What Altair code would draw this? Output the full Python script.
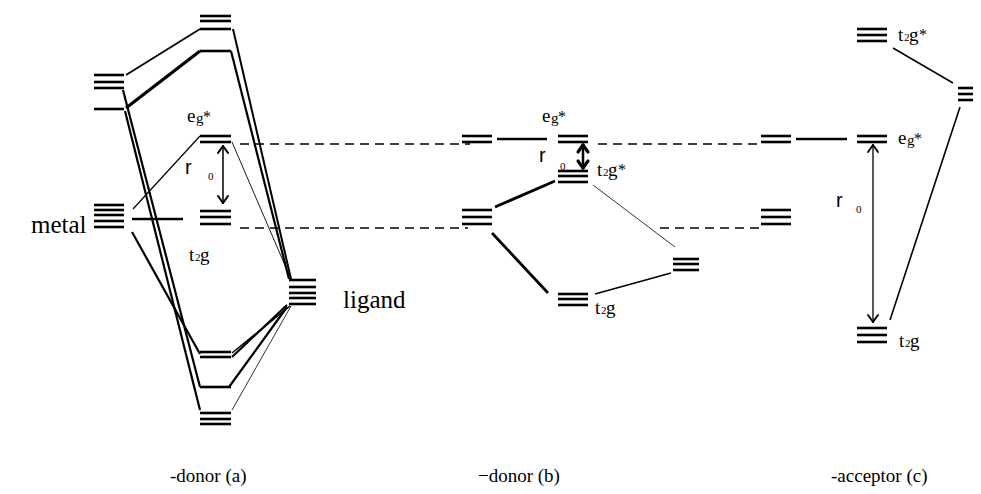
import altair as alt
import pandas as pd

# ---------------- data (page-pixel units) ----------------
# energy levels: left end, right end, y of each stacked line
level_x1 = [94, 94, 94, 200, 200, 200, 200, 200, 200, 200, 289,
            462, 558, 558, 462, 558, 673,
            857, 958, 761, 857, 761, 857]
level_x2 = [124, 124, 124, 231, 231, 231, 231, 231, 231, 231, 316,
            492, 588, 588, 492, 588, 699,
            887, 973, 791, 887, 791, 887]
level_ys = [[75, 82, 88], [109], [205, 210, 215, 221, 227], [16, 21, 29], [51],
            [136, 142], [211, 217, 224], [352, 357], [387], [413, 419, 424],
            [280, 287, 293, 298, 304],
            [136, 142], [136, 142], [171, 176, 182], [210, 217, 224], [294, 299, 305], [259, 264, 270],
            [29, 35, 41], [88, 94, 100], [136, 142], [136, 142], [210, 217, 224], [328, 335, 342]]

# correlation lines: x1, y1, x2, y2, width
conn_x1 = [126, 126, 133, 123, 125, 132, 233, 231, 232, 287, 290, 287, 291, 132,
           497, 495, 492, 593, 595,
           796, 893, 960]
conn_y1 = [75, 108, 209, 90, 111, 232, 29, 51, 142, 305, 306, 307, 306, 219,
           139, 207, 233, 185, 294,
           139, 48, 107]
conn_x2 = [200, 200, 200, 200, 200, 200, 291, 289, 290, 232, 232, 229, 232, 183,
           547, 555, 548, 675, 671,
           847, 953, 890]
conn_y2 = [29, 51, 136, 387, 410, 354, 279, 279, 277, 357, 353, 387, 410, 219,
           139, 181, 293, 247, 273,
           139, 83, 320]
conn_w = [1.8, 3.2, 1.2, 2.2, 2.2, 2.2, 2.0, 2.2, 0.9, 2.2, 1.5, 2.2, 0.8, 2.6,
          2.6, 2.8, 2.8, 0.8, 1.6,
          2.6, 1.5, 1.6]

# dashed reference lines
dash_x1 = [240, 598, 240, 660]
dash_x2 = [470, 762, 468, 762]
dash_y = [144, 144, 228, 228]

# double-headed arrows (splitting r0)
arrow_x = [223, 583, 873]
arrow_y1 = [146, 145, 145]
arrow_y2 = [203, 168, 322]
arrow_w = [1.5, 2.5, 1.3]

# orbital labels: kind, left x, baseline y
orb_kind = ["eg*", "t2g", "eg*", "t2g*", "t2g", "t2g*", "eg*", "t2g"]
orb_x = [187, 189, 542, 597, 595, 898, 898, 899]
orb_y = [122, 261, 122, 176, 314, 41, 144, 347]

# r0 labels
r_x = [185, 539, 836]
r_y = [174, 162, 207]
zero_x = [208, 560, 856]
zero_y = [180, 170, 213]

# plain labels
lab_text = ["metal", "ligand", "-donor (a)", "\u2212donor (b)", "-acceptor (c)"]
lab_x = [31, 343, 170, 478, 831]
lab_y = [233, 308, 482, 482, 482]
lab_size = [25, 25, 19, 19, 19]

# ---------------- build tables ----------------
lev_rows = []
for x1, x2, ys in zip(level_x1, level_x2, level_ys):
    for y in ys:
        lev_rows.append({"x": x1, "x2": x2, "y": y, "y2": y})
levels = pd.DataFrame(lev_rows)

conns = pd.DataFrame({"x": conn_x1, "y": conn_y1, "x2": conn_x2, "y2": conn_y2, "w": conn_w})
dashes = pd.DataFrame({"x": dash_x1, "x2": dash_x2, "y": dash_y, "y2": dash_y})

arr_rows = []
for ax, a1, a2, w in zip(arrow_x, arrow_y1, arrow_y2, arrow_w):
    arr_rows.append({"x": ax, "y": a1, "x2": ax, "y2": a2, "w": w})
    for sx in (-5, 5):
        arr_rows.append({"x": ax, "y": a1, "x2": ax + sx, "y2": a1 + 7, "w": w + 0.6})
        arr_rows.append({"x": ax, "y": a2, "x2": ax + sx, "y2": a2 - 7, "w": w + 0.6})
arrows = pd.DataFrame(arr_rows)

serif_rows = []
for kind, x, y in zip(orb_kind, orb_x, orb_y):
    if kind == "eg*":
        serif_rows += [{"t": "e", "x": x, "y": y, "s": 19},
                       {"t": "g", "x": x + 9, "y": y + 1, "s": 15},
                       {"t": "*", "x": x + 16, "y": y, "s": 16}]
    else:
        serif_rows += [{"t": "t", "x": x, "y": y, "s": 19},
                       {"t": "2", "x": x + 6, "y": y, "s": 11},
                       {"t": "g", "x": x + 11, "y": y, "s": 19}]
        if kind == "t2g*":
            serif_rows.append({"t": "*", "x": x + 21, "y": y - 1, "s": 16})
for x, y in zip(zero_x, zero_y):
    serif_rows.append({"t": "0", "x": x, "y": y, "s": 11})
for t, x, y, s in zip(lab_text, lab_x, lab_y, lab_size):
    serif_rows.append({"t": t, "x": x, "y": y, "s": s})
serif = pd.DataFrame(serif_rows)
sans = pd.DataFrame({"t": ["r"] * len(r_x), "x": r_x, "y": r_y, "s": [20] * len(r_x)})

# ---------------- chart ----------------
xs = alt.Scale(domain=[8, 973], nice=False, zero=False)
ys = alt.Scale(domain=[8, 486], nice=False, zero=False, reverse=True)
X = alt.X("x:Q", scale=xs, axis=None)
Y = alt.Y("y:Q", scale=ys, axis=None)

lev = alt.Chart(levels).mark_rule(color="black", strokeWidth=2.6, strokeCap="butt").encode(
    x=X, x2="x2:Q", y=Y, y2="y2:Q")
con = alt.Chart(conns).mark_rule(color="black", strokeCap="butt").encode(
    x=X, x2="x2:Q", y=Y, y2="y2:Q", strokeWidth=alt.StrokeWidth("w:Q", scale=None))
das = alt.Chart(dashes).mark_rule(color="black", strokeWidth=1.3, strokeDash=[9, 6]).encode(
    x=X, x2="x2:Q", y=Y, y2="y2:Q")
arr = alt.Chart(arrows).mark_rule(color="black", strokeCap="round").encode(
    x=X, x2="x2:Q", y=Y, y2="y2:Q", strokeWidth=alt.StrokeWidth("w:Q", scale=None))
txt1 = alt.Chart(serif).mark_text(font="Liberation Serif", align="left", baseline="alphabetic",
                                  color="black").encode(
    x=X, y=Y, text="t:N", size=alt.Size("s:Q", scale=None))
txt2 = alt.Chart(sans).mark_text(font="Liberation Sans", align="left", baseline="alphabetic",
                                 color="black").encode(
    x=X, y=Y, text="t:N", size=alt.Size("s:Q", scale=None))

chart = alt.layer(das, con, lev, arr, txt1, txt2).properties(
    width=965, height=478, padding=0, autosize="none"
).configure(background="white", view=alt.ViewConfig(stroke=None))

chart.save("out.html", embed_options={"renderer": "svg", "actions": False})
